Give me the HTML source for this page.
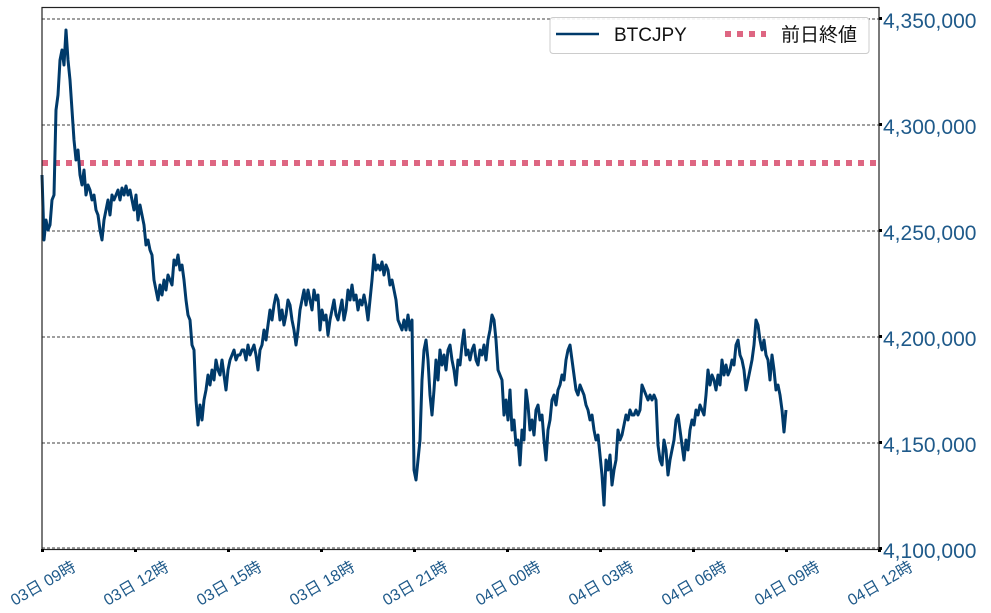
<!DOCTYPE html>
<html><head><meta charset="utf-8"><style>
html,body{margin:0;padding:0;background:#fff;}
svg{display:block;}
text{font-family:"Liberation Sans","Noto Sans CJK JP",sans-serif;}
</style></head><body>
<svg width="991" height="613" viewBox="0 0 991 613" xmlns="http://www.w3.org/2000/svg">
<rect width="991" height="613" fill="#fff"/>
<g stroke="#000" stroke-width="0.8" stroke-dasharray="3,2">
<line x1="42" y1="19" x2="879" y2="19"/>
<line x1="42" y1="125" x2="879" y2="125"/>
<line x1="42" y1="231" x2="879" y2="231"/>
<line x1="42" y1="337" x2="879" y2="337"/>
<line x1="42" y1="443" x2="879" y2="443"/>
<line x1="42" y1="548" x2="879" y2="548"/>
</g>
<line x1="42" y1="163" x2="879" y2="163" stroke="#de6682" stroke-width="6" stroke-dasharray="6,6"/>
<polyline fill="none" stroke="#003a6a" stroke-width="3" stroke-linejoin="round" points="42,175 44,240 46,220 48,230 50,225 52,200 54,195 56,110 58,95 60,60 62,50 64,65 66,30 68,60 70,80 72,110 74,140 76,160 78,150 80,175 82,185 84,170 86,195 88,185 90,190 92,200 94,195 96,210 98,215 100,230 102,240 104,220 106,210 108,200 110,215 112,195 114,200 116,195 118,190 120,200 122,188 124,195 126,186 128,195 130,190 132,200 134,210 136,195 138,220 140,205 142,215 144,225 146,245 148,240 150,250 152,255 154,280 156,290 158,300 160,285 162,295 164,280 166,290 168,275 170,280 172,285 174,260 176,265 178,255 180,270 182,265 184,280 186,300 188,315 190,320 192,345 194,350 196,400 198,425 200,405 202,420 204,400 206,390 208,375 210,385 212,370 214,380 216,360 218,370 220,375 222,360 224,375 226,390 228,370 230,360 232,355 234,350 236,360 238,355 240,355 242,350 244,350 246,360 248,345 250,355 252,350 254,345 256,355 258,370 260,350 262,345 264,330 266,340 268,325 270,310 272,320 274,305 276,295 278,300 280,320 282,310 284,325 286,315 288,300 290,305 292,320 294,330 296,345 298,330 300,310 302,300 304,290 306,305 308,290 310,300 312,310 314,290 316,300 318,295 320,330 322,310 324,320 326,315 328,335 330,320 332,310 334,300 336,315 338,320 340,310 342,300 344,320 346,310 348,290 350,300 352,285 354,300 356,295 358,310 360,300 362,305 364,295 366,305 368,320 370,300 372,280 374,255 376,270 378,265 380,270 382,262 384,275 386,265 388,270 390,285 392,280 394,290 396,300 398,320 400,325 402,330 404,320 406,330 408,315 410,330 412,320 414,470 416,480 418,460 420,440 422,380 424,350 426,340 428,360 430,395 432,415 434,390 436,360 438,380 440,350 442,365 444,355 446,370 448,350 450,345 452,360 454,370 456,385 458,360 460,365 462,345 464,330 466,355 468,350 470,360 472,350 474,345 476,360 478,365 480,350 482,355 484,345 486,360 488,340 490,330 492,315 494,320 496,340 498,370 500,375 502,380 504,415 506,400 508,420 510,390 512,430 514,420 516,445 518,440 520,465 522,430 524,440 526,390 528,405 530,430 532,420 534,435 536,410 538,405 540,420 542,415 544,440 546,460 548,430 550,420 552,400 554,395 556,405 558,390 560,385 562,375 564,380 566,360 568,350 570,345 572,360 574,375 576,390 578,395 580,385 582,390 584,395 586,405 588,410 590,420 592,415 594,430 596,440 598,435 600,455 602,475 604,505 606,460 608,470 610,455 612,485 614,470 616,460 618,430 620,440 622,435 624,425 626,415 628,420 630,410 632,415 634,415 636,410 638,415 640,410 642,385 644,390 646,395 648,400 650,395 652,400 654,395 656,400 658,445 660,460 662,465 664,440 666,450 668,475 670,460 672,450 674,440 676,420 678,415 680,430 682,445 684,460 686,440 688,450 690,430 692,420 694,425 696,410 698,415 700,405 702,410 704,415 706,395 708,370 710,385 712,375 714,380 716,390 718,375 720,385 722,360 724,375 726,365 728,375 730,370 732,360 734,365 736,345 738,340 740,355 742,360 744,370 746,390 748,380 750,370 752,360 754,345 756,320 758,325 760,340 762,350 764,340 766,355 768,360 770,380 772,355 774,370 776,390 778,385 780,395 782,410 784,432 786,410"/>
<rect x="42" y="7.5" width="837" height="542" fill="none" stroke="#222" stroke-width="1.2"/>
<g fill="#000">
<rect x="879" y="17" width="3" height="3"/><rect x="879" y="123" width="3" height="3"/><rect x="879" y="229" width="3" height="3"/><rect x="879" y="335" width="3" height="3"/><rect x="879" y="441" width="3" height="3"/><rect x="879" y="547" width="3" height="3"/>
<rect x="41" y="549" width="3" height="3"/><rect x="134" y="549" width="3" height="3"/><rect x="227" y="549" width="3" height="3"/><rect x="320" y="549" width="3" height="3"/><rect x="413" y="549" width="3" height="3"/><rect x="506" y="549" width="3" height="3"/><rect x="599" y="549" width="3" height="3"/><rect x="692" y="549" width="3" height="3"/><rect x="785" y="549" width="3" height="3"/><rect x="878" y="549" width="3" height="3"/>
</g>
<g fill="#1f5a8a" font-size="21">
<text x="883" y="28">4,350,000</text>
<text x="883" y="134">4,300,000</text>
<text x="883" y="240">4,250,000</text>
<text x="883" y="346">4,200,000</text>
<text x="883" y="452">4,150,000</text>
<text x="883" y="558">4,100,000</text>
</g>
<g fill="#1f5a8a" font-size="16" text-anchor="end">
<text transform="translate(77,570) rotate(-30)">03日 09時</text>
<text transform="translate(170,570) rotate(-30)">03日 12時</text>
<text transform="translate(263,570) rotate(-30)">03日 15時</text>
<text transform="translate(356,570) rotate(-30)">03日 18時</text>
<text transform="translate(449,570) rotate(-30)">03日 21時</text>
<text transform="translate(542,570) rotate(-30)">04日 00時</text>
<text transform="translate(635,570) rotate(-30)">04日 03時</text>
<text transform="translate(728,570) rotate(-30)">04日 06時</text>
<text transform="translate(821,570) rotate(-30)">04日 09時</text>
<text transform="translate(914,570) rotate(-30)">04日 12時</text>
</g>
<rect x="550" y="17.5" width="319" height="36" rx="3" fill="#fff" fill-opacity="0.9" stroke="#ccc"/>
<line x1="556" y1="34" x2="599" y2="34" stroke="#003a6a" stroke-width="2.5"/>
<text x="614" y="41" font-size="19" fill="#111">BTCJPY</text>
<line x1="725" y1="34" x2="766" y2="34" stroke="#de6682" stroke-width="6" stroke-dasharray="6,6"/>
<text x="781" y="41" font-size="19" fill="#111">前日終値</text>
</svg>
</body></html>
